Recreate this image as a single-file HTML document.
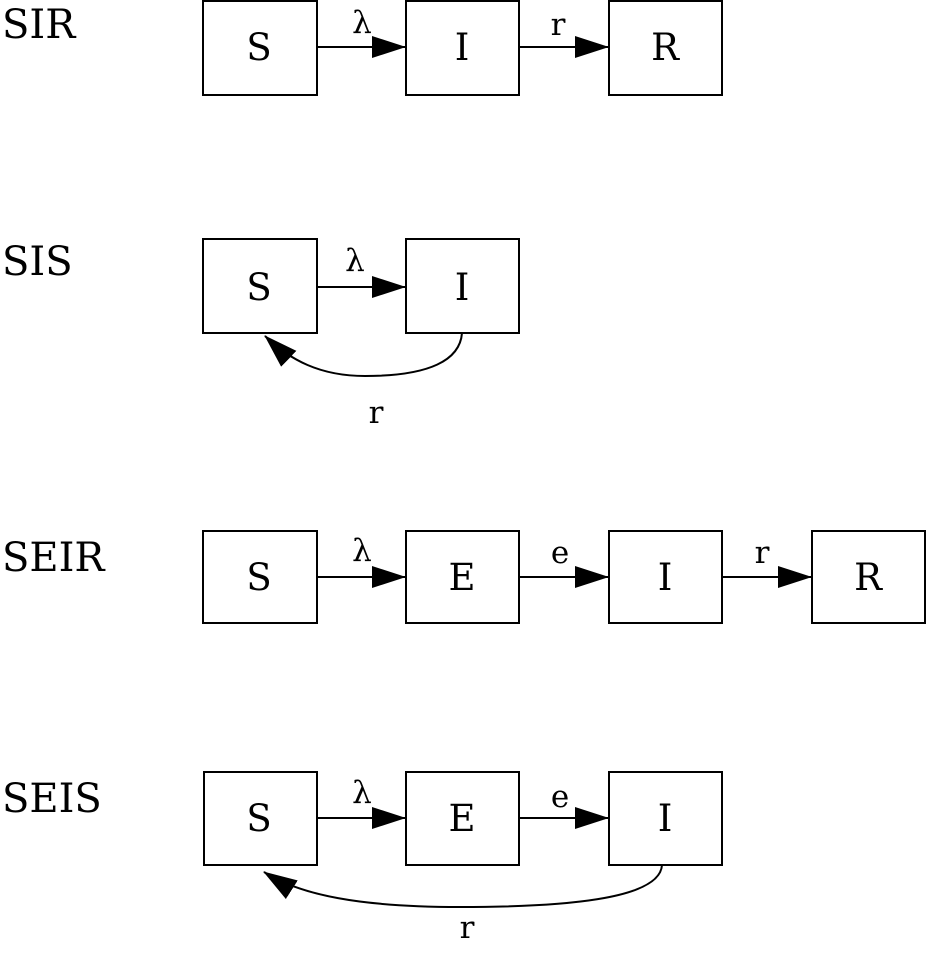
<!DOCTYPE html>
<html><head><style>body{margin:0;background:#fff}</style></head><body>
<svg width="930" height="958" xmlns="http://www.w3.org/2000/svg" font-family="DejaVu Serif, Liberation Serif, serif">
<defs><marker id="a" markerWidth="34" markerHeight="22" refX="33" refY="11" orient="auto" markerUnits="userSpaceOnUse"><path d="M0,0 L34,11 L0,22 Z" fill="#000"/></marker></defs>
<g fill="none" stroke="#000" stroke-width="2">
<rect x="203" y="1" width="114" height="94"/><rect x="406" y="1" width="113" height="94"/><rect x="609" y="1" width="113" height="94"/>
<rect x="203" y="239" width="114" height="94"/><rect x="406" y="239" width="113" height="94"/>
<rect x="203" y="531" width="114" height="92"/><rect x="406" y="531" width="113" height="92"/><rect x="609" y="531" width="113" height="92"/><rect x="812" y="531" width="113" height="92"/>
<rect x="204" y="772" width="113" height="93"/><rect x="406" y="772" width="113" height="93"/><rect x="609" y="772" width="113" height="93"/>
<path d="M317,47 H405" marker-end="url(#a)"/><path d="M519,47 H608" marker-end="url(#a)"/>
<path d="M317,287 H405" marker-end="url(#a)"/>
<path d="M462,333 C460,360 430,376 365,376 C320,376 290,360 265,336" marker-end="url(#a)"/>
<path d="M317,577 H405" marker-end="url(#a)"/><path d="M519,577 H608" marker-end="url(#a)"/><path d="M722,577 H811" marker-end="url(#a)"/>
<path d="M317,818 H405" marker-end="url(#a)"/><path d="M519,818 H608" marker-end="url(#a)"/>
<path d="M662,865 C660,900 560,907 460,907 C360,907 300,895 264,872" marker-end="url(#a)"/>
</g>
<g font-size="40"><text x="2" y="38">SIR</text><text x="2" y="275">SIS</text><text x="2" y="571">SEIR</text><text x="2" y="812">SEIS</text></g>
<g font-size="37" text-anchor="middle">
<text x="259" y="60">S</text><text x="462" y="60">I</text><text x="665" y="60">R</text>
<text x="259" y="300">S</text><text x="462" y="300">I</text>
<text x="259" y="590">S</text><text x="462" y="590">E</text><text x="665" y="590">I</text><text x="868" y="590">R</text>
<text x="259" y="831">S</text><text x="462" y="831">E</text><text x="665" y="831">I</text>
</g>
<g font-size="31" text-anchor="middle">
<text x="362" y="33">λ</text><text x="558" y="35">r</text>
<text x="355" y="271">λ</text><text x="376" y="423">r</text>
<text x="362" y="561">λ</text><text x="560" y="563">e</text><text x="762" y="563">r</text>
<text x="362" y="803">λ</text><text x="560" y="807">e</text><text x="467" y="938">r</text>
</g>
</svg>
</body></html>
